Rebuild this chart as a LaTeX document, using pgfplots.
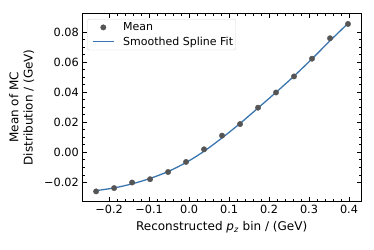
\documentclass[border=0pt]{standalone}
\usepackage{pgfplots}
\pgfplotsset{compat=1.18}
\usepackage{fontspec}
\setmainfont{DejaVu Sans}
\definecolor{fitblue}{RGB}{59,117,175}
\definecolor{ptgray}{RGB}{85,85,85}
\pgfplotsset{
  markleg/.style={legend image code/.code={\path (-1.7pt,0pt) (21.6pt,0pt);
    \draw[mark repeat=2,mark phase=2,##1] plot coordinates {(0pt,0pt) (10.8pt,0pt) (21.6pt,0pt)};}},
  lineleg/.style={legend image code/.code={\path (-1.7pt,0pt) (21.6pt,0pt);
    \draw[fitblue, line width=1.3pt] (0pt,0pt) -- (21.6pt,0pt);}},
}
\begin{document}
\begin{tikzpicture}
\useasboundingbox (-82.3pt,-47.7pt) rectangle (291.7pt,201.3pt);
\begin{axis}[
  scale only axis,
  width=278.7pt, height=188pt,
  at={(0,0)}, anchor=south west,
  xmin=-0.267, xmax=0.43,
  ymin=-0.0326, ymax=0.0925,
  xtick={-0.2,-0.1,0,0.1,0.2,0.3,0.4},
  xticklabels={−0.2,−0.1,0.0,0.1,0.2,0.3,0.4},
  ytick={-0.02,0,0.02,0.04,0.06,0.08},
  yticklabels={−0.02,0.00,0.02,0.04,0.06,0.08},
  minor x tick num=4,
  minor y tick num=3,
  tick align=inside,
  xtick pos=both, ytick pos=both,
  major tick length=4.5pt,
  minor tick length=2.3pt,
  tick style={black, line width=0.7pt},
  axis line style={black, line width=0.8pt},
  tick label style={font=\fontsize{11.3}{13}\selectfont},
  scaled y ticks=false,
  xlabel={Reconstructed \textit{p}\textsubscript{\textit{z}} bin / (GeV)},
  ylabel={Mean of MC\\Distribution / (GeV)},
  label style={font=\fontsize{12}{14.4}\selectfont},
  xlabel style={yshift=-1.5pt},
  ylabel style={align=center, yshift=3pt},
  legend style={at={(0.0179,0.97)}, anchor=north west, draw=black!15, rounded corners=2pt,
    font=\fontsize{11}{13}\selectfont, inner xsep=2.7pt, inner ysep=1.5pt,
    nodes={inner xsep=0pt, inner ysep=2pt}, row sep=0.5pt,
    /tikz/every odd column/.append style={column sep=8.4pt}},
  legend cell align=left,
]
\addplot[only marks, mark=*, mark size=2.7pt, color=ptgray, markleg] coordinates {
(-0.2325,-0.0260) (-0.1875,-0.0238) (-0.1425,-0.0201) (-0.0975,-0.0179)
(-0.0525,-0.0131) (-0.0075,-0.0064) (0.0375,0.0020) (0.0825,0.0111)
(0.1275,0.0188) (0.1725,0.0297) (0.2175,0.0398) (0.2625,0.0505)
(0.3075,0.0623) (0.3525,0.0759) (0.3975,0.0854)
};
\addlegendentry{Mean}
\addplot[smooth, color=fitblue, line width=1.3pt, lineleg] coordinates {
(-0.2325,-0.0255) (-0.1875,-0.0237) (-0.1425,-0.0210) (-0.0975,-0.0174)
(-0.0525,-0.0128) (-0.0075,-0.0068) (0.0375,0.0007) (0.0825,0.0096)
(0.1275,0.0192) (0.1725,0.0295) (0.2175,0.0399) (0.2625,0.0507)
(0.3075,0.0622) (0.3525,0.0742) (0.3975,0.0858)
};
\addlegendentry{Smoothed Spline Fit}
\end{axis}
\end{tikzpicture}
\end{document}
